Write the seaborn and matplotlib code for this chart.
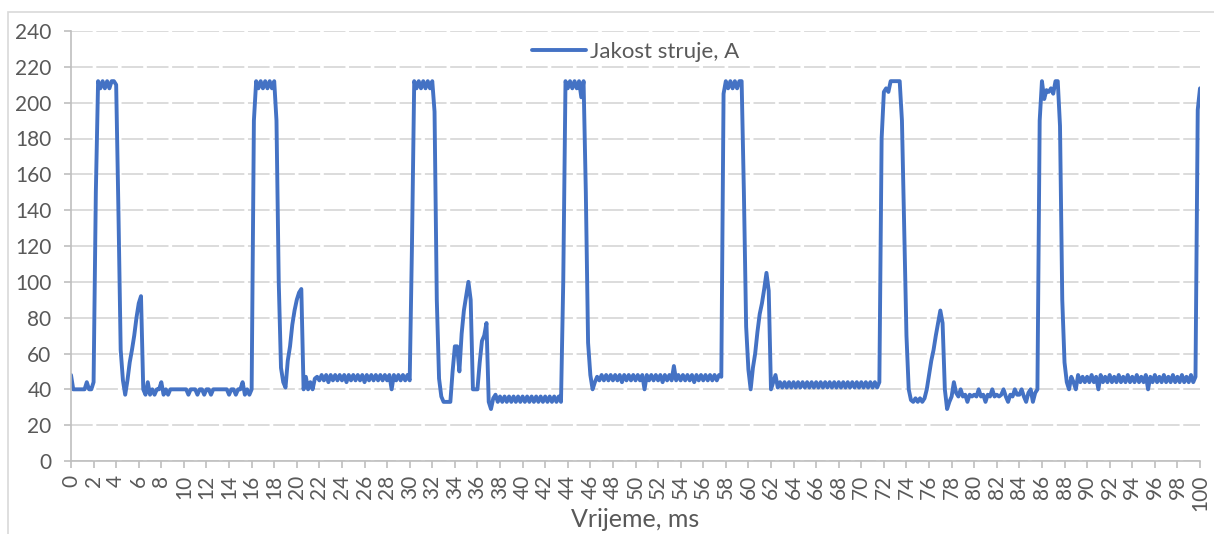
import numpy as np
import pandas as pd
import matplotlib
matplotlib.use("Agg")
import matplotlib.pyplot as plt
import seaborn as sns
from matplotlib.patches import Rectangle

# ---- data: current sampled every 0.2 ms, one row = 2 ms ----
time_step_ms = 0.2
current_rows = [
    [48, 40, 40, 40, 40, 40, 40, 44, 40, 40],          # 0
    [44, 150, 212, 208, 212, 208, 212, 208, 212, 212],  # 2
    [210, 140, 62, 45, 37, 45, 55, 62, 70, 80],         # 4
    [88, 92, 40, 37, 44, 37, 40, 37, 40, 40],           # 6
    [44, 37, 40, 37, 40, 40, 40, 40, 40, 40],           # 8
    [40, 40, 37, 40, 40, 40, 37, 40, 40, 37],           # 10
    [40, 40, 37, 40, 40, 40, 40, 40, 40, 40],           # 12
    [37, 40, 40, 37, 40, 40, 44, 37, 40, 37],           # 14
    [40, 190, 212, 208, 212, 208, 212, 208, 212, 208],  # 16
    [212, 190, 100, 52, 44, 41, 56, 64, 76, 84],        # 18
    [90, 94, 96, 40, 47, 40, 44, 40, 46, 47],           # 20
    [45, 48, 45, 48, 44, 48, 45, 48, 45, 48],           # 22
    [45, 48, 44, 48, 45, 48, 45, 48, 45, 48],           # 24
    [44, 48, 45, 48, 45, 48, 45, 48, 45, 48],           # 26
    [45, 48, 40, 48, 45, 48, 45, 48, 45, 48],           # 28
    [45, 120, 212, 208, 212, 208, 212, 208, 212, 208],  # 30
    [212, 195, 90, 46, 36, 33, 33, 33, 33, 50],         # 32
    [64, 64, 50, 71, 84, 92, 100, 90, 40, 40],          # 34
    [40, 55, 67, 70, 77, 33, 29, 35, 37, 33],           # 36
    [36, 33, 36, 33, 36, 33, 36, 33, 36, 33],           # 38
    [36, 33, 36, 33, 36, 33, 36, 33, 36, 33],           # 40
    [36, 33, 36, 33, 36, 33, 36, 33, 100, 212],         # 42
    [208, 212, 208, 212, 208, 212, 203, 212, 150, 66],  # 44
    [48, 40, 44, 47, 45, 48, 45, 48, 45, 48],           # 46
    [45, 48, 45, 48, 44, 48, 45, 48, 45, 48],           # 48
    [45, 48, 45, 48, 40, 48, 45, 48, 45, 48],           # 50
    [45, 48, 44, 48, 45, 48, 45, 53, 45, 48],           # 52
    [45, 48, 45, 48, 45, 48, 44, 48, 45, 48],           # 54
    [45, 48, 45, 48, 45, 48, 45, 48, 47, 205],          # 56
    [212, 208, 212, 208, 212, 208, 212, 212, 150, 75],  # 58
    [51, 40, 52, 60, 72, 82, 88, 96, 105, 95],          # 60
    [40, 44, 48, 41, 44, 41, 44, 41, 44, 41],           # 62
    [44, 41, 44, 41, 44, 41, 44, 41, 44, 41],           # 64
    [44, 41, 44, 41, 44, 41, 44, 41, 44, 41],           # 66
    [44, 41, 44, 41, 44, 41, 44, 41, 44, 41],           # 68
    [44, 41, 44, 41, 44, 41, 44, 41, 44, 180],          # 70
    [206, 208, 206, 212, 212, 212, 212, 212, 190, 131], # 72
    [70, 40, 34, 33, 35, 33, 35, 33, 35, 40],           # 74
    [48, 56, 62, 70, 77, 84, 77, 40, 29, 33],           # 76
    [36, 44, 38, 36, 40, 36, 37, 33, 37, 36],           # 78
    [37, 36, 40, 36, 37, 33, 37, 36, 40, 36],           # 80
    [37, 36, 37, 40, 36, 33, 37, 36, 40, 37],           # 82
    [37, 40, 36, 33, 38, 40, 33, 38, 40, 190],          # 84
    [212, 202, 207, 206, 208, 205, 212, 212, 187, 90],  # 86
    [55, 44, 40, 47, 44, 40, 48, 44, 47, 44],           # 88
    [47, 44, 48, 44, 47, 40, 48, 44, 47, 44],           # 90
    [48, 44, 47, 44, 48, 44, 47, 44, 48, 44],           # 92
    [47, 44, 48, 44, 47, 44, 48, 40, 47, 44],           # 94
    [48, 44, 47, 44, 48, 44, 47, 44, 48, 44],           # 96
    [47, 44, 48, 44, 47, 44, 48, 44, 47, 196],          # 98
    [208],                                              # 100
]
current_values = [v for row in current_rows for v in row]
time_ms = np.round(np.arange(len(current_values)) * time_step_ms, 2)

series_name = "Jakost struje, A"
x_label = "Vrijeme, ms"
x_ticks = list(range(0, 101, 2))
y_ticks = list(range(0, 241, 20))

df = pd.DataFrame({"t": time_ms, "I": current_values})

# ---- style ----
sns.set_theme(style="white")
plt.rcParams["font.family"] = ["Lato", "DejaVu Sans"]
text_color = "#595959"
axis_color = "#bfbfbf"
grid_color = "#d9d9d9"
line_color = "#4472C4"

fig = plt.figure(figsize=(12.14, 5.34), dpi=100)
ax = fig.add_axes([71 / 1214, 1 - 461 / 534, (1200 - 71) / 1214, (461 - 31) / 534])

sns.lineplot(data=df, x="t", y="I", ax=ax, estimator=None, sort=False,
             color=line_color, linewidth=2.8, label=series_name)

ax.set_xlim(0, 100)
ax.set_ylim(0, 240)
ax.set_xticks(x_ticks)
ax.set_xticklabels([str(v) for v in x_ticks], rotation=90, fontsize=15, color=text_color)
ax.set_yticks(y_ticks)
ax.set_yticklabels([str(v) for v in y_ticks], fontsize=15, color=text_color)

ax.grid(axis="y", color=grid_color, linewidth=1.3, linestyle=(0, (12, 2)))
ax.grid(axis="x", visible=False)
ax.set_axisbelow(True)

for side in ["top", "right"]:
    ax.spines[side].set_visible(False)
for side in ["left", "bottom"]:
    ax.spines[side].set_color(axis_color)
    ax.spines[side].set_linewidth(1.2)

ax.tick_params(axis="x", direction="out", length=5, width=1.2, color=axis_color,
               pad=5, bottom=True)
ax.tick_params(axis="y", direction="out", length=5, width=1.2, color=axis_color,
               pad=9, left=True)

ax.set_ylabel("")
ax.set_xlabel(x_label, fontsize=18, color=text_color)
ax.xaxis.set_label_coords(0.5, -0.11)

leg = ax.legend(loc="center", bbox_to_anchor=(0.5, 0.951), frameon=False,
                fontsize=16, handlelength=2.45, handletextpad=0.15,
                labelcolor=text_color)

# chart area outline
fig.patches.append(Rectangle((8 / 1214, -0.1), 1.2, 1 - 12 / 534 + 0.1,
                             transform=fig.transFigure, fill=False,
                             edgecolor="#d9d9d9", linewidth=1.2))

fig.savefig("out.png", dpi=100)
